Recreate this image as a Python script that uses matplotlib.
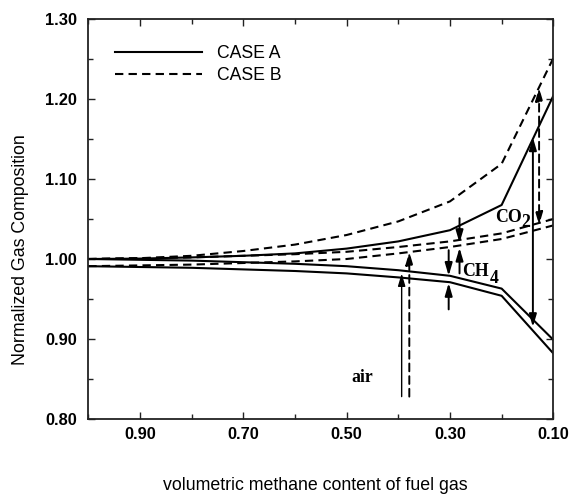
import matplotlib
matplotlib.use('Agg')
import matplotlib.pyplot as plt
from matplotlib.lines import Line2D
from matplotlib.ticker import FixedLocator, FormatStrFormatter

# ---- data ----
x = [1.0, 0.9, 0.8, 0.7, 0.6, 0.5, 0.4, 0.3, 0.2, 0.1]
co2_a = [1.000, 1.0005, 1.002, 1.004, 1.007, 1.013, 1.022, 1.036, 1.0675, 1.204]
co2_b = [1.000, 1.001, 1.004, 1.010, 1.018, 1.030, 1.047, 1.072, 1.119, 1.251]
ch4_b = [1.000, 1.001, 1.002, 1.004, 1.006, 1.009, 1.015, 1.022, 1.032, 1.050]
air_b = [0.991, 0.992, 0.993, 0.995, 0.997, 1.000, 1.007, 1.015, 1.025, 1.042]
ch4_a = [1.000, 0.999, 0.998, 0.996, 0.994, 0.991, 0.986, 0.979, 0.963, 0.899]
air_a = [0.991, 0.990, 0.989, 0.987, 0.985, 0.982, 0.977, 0.971, 0.954, 0.882]

arrow_x = [0.3935, 0.3787, 0.3025, 0.3025, 0.2815, 0.2815, 0.1395, 0.1275]
arrow_from = [0.828, 0.828, 1.011, 0.937, 1.051, 0.982, 1.152, 1.214]
arrow_to = [0.982, 1.009, 0.979, 0.970, 1.020, 1.014, 0.915, 1.0425]
arrow_case = ['A', 'B', 'A', 'A', 'A', 'A', 'A', 'B']
arrow_double = [False, False, False, False, False, False, True, True]

x_major = [0.9, 0.7, 0.5, 0.3, 0.1]
x_minor = [1.0, 0.8, 0.6, 0.4, 0.2]
y_major = [0.8, 0.9, 1.0, 1.1, 1.2, 1.3]
y_minor = [0.85, 0.95, 1.05, 1.15, 1.25]

legend_labels = ['CASE A', 'CASE B']
# --------------------------------------

SANS = ['Liberation Sans', 'DejaVu Sans']
SERIF = ['Liberation Serif', 'DejaVu Serif']
plt.rcParams['font.family'] = SANS

W, H = 576, 496
fig = plt.figure(figsize=(W / 100, H / 100), dpi=100)
ax = fig.add_axes([88.3 / W, 1 - 419 / H, 465 / W, 400 / H])

dash = (0, (4, 2.5))
LW = 1.5
styles = {'A': '-', 'B': dash}

ax.plot(x, co2_a, color='black', lw=LW, ls='-')
ax.plot(x, co2_b, color='black', lw=LW, ls=dash)
ax.plot(x, ch4_b, color='black', lw=LW, ls=dash)
ax.plot(x, air_b, color='black', lw=LW, ls=dash)
ax.plot(x, ch4_a, color='black', lw=LW, ls='-')
ax.plot(x, air_a, color='black', lw=LW, ls='-')

for xi, y0, y1, case, dbl in zip(arrow_x, arrow_from, arrow_to, arrow_case, arrow_double):
    style = '<|-|>' if dbl else '-|>'
    lw = 1.0 if (case == 'A' and y0 < 0.85) else 1.4
    ax.annotate('', xy=(xi, y1), xytext=(xi, y0),
                arrowprops=dict(arrowstyle=style + ',head_length=0.75,head_width=0.22',
                                mutation_scale=10, lw=lw, color='black',
                                linestyle=styles[case], shrinkA=0, shrinkB=0))

# annotation texts
tk = dict(family=SERIF, weight='bold', size=12.8, color='black')
ax.text(0.2129, 1.0466, 'CO', ha='left', va='baseline', **tk)
ax.text(0.1626, 1.0406, '2', ha='left', va='baseline', **tk)
ax.text(0.2773, 0.9788, 'CH', ha='left', va='baseline', **tk)
ax.text(0.2226, 0.9706, '4', ha='left', va='baseline', **tk)
ax.text(0.4902, 0.8466, 'air', ha='left', va='baseline', **tk)

ax.set_xlim(1.0, 0.1)
ax.set_ylim(0.8, 1.3)

ax.xaxis.set_major_locator(FixedLocator(x_major))
ax.xaxis.set_minor_locator(FixedLocator(x_minor))
ax.yaxis.set_major_locator(FixedLocator(y_major))
ax.yaxis.set_minor_locator(FixedLocator(y_minor))
ax.xaxis.set_major_formatter(FormatStrFormatter('%.2f'))
ax.yaxis.set_major_formatter(FormatStrFormatter('%.2f'))

ax.tick_params(which='both', direction='in', top=True, right=True, color='#222222', width=1.0)
ax.tick_params(which='major', length=5)
ax.tick_params(which='minor', length=3.5)
ax.tick_params(axis='x', which='major', pad=6, labelsize=11.8)
ax.tick_params(axis='y', which='major', pad=8, labelsize=11.8)
for lab in ax.get_xticklabels() + ax.get_yticklabels():
    lab.set_fontweight('bold')

for sp in ax.spines.values():
    sp.set_linewidth(1.3)
    sp.set_color('#222222')

handles = [Line2D([], [], color='black', lw=LW, ls='-'),
           Line2D([], [], color='black', lw=LW, ls=dash)]
ax.legend(handles, legend_labels, loc='upper left', bbox_to_anchor=(0.0574, 0.935),
          frameon=False, handlelength=4.95, handletextpad=0.85, labelspacing=0.3,
          borderpad=0, borderaxespad=0, prop=dict(family=SANS, size=12.7))

fig.text(21 / W, 1 - 250 / H, 'Normalized Gas Composition', rotation=90,
         ha='center', va='center', fontsize=12.8)
fig.text(315 / W, 1 - 485 / H, 'volumetric methane content of fuel gas',
         ha='center', va='center', fontsize=12.8)

fig.savefig('out.png', dpi=100)
